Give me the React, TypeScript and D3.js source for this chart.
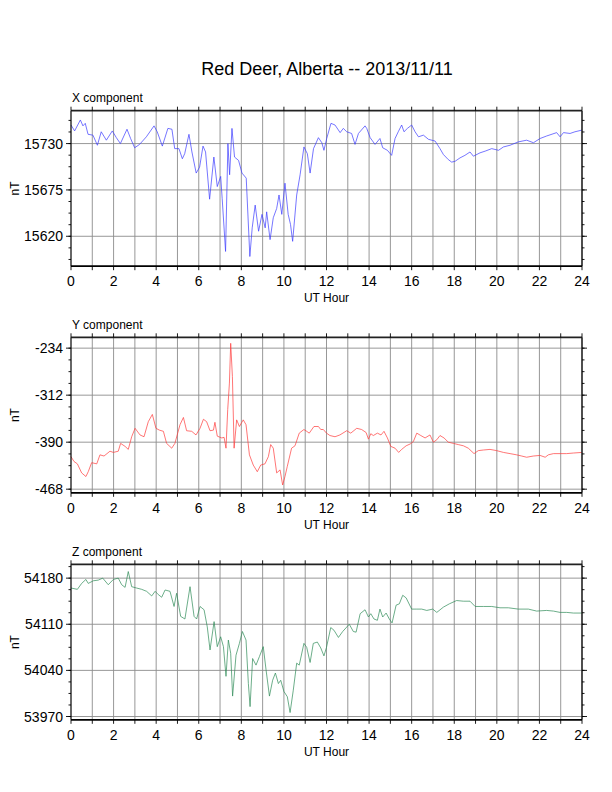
import { line, range, scaleLinear } from "d3";

const TITLE = "Red Deer, Alberta -- 2013/11/11";

// X component (nT)
const xHours = [0, 0.17, 0.44, 0.56, 0.67, 0.8, 1.03, 1.24, 1.42, 1.66, 1.94, 2.13, 2.32, 2.63, 2.8, 2.99, 3.22, 3.54, 3.9, 4.05, 4.29, 4.55, 4.74, 4.87, 5.07, 5.23, 5.34, 5.54, 5.68, 5.88, 6.04, 6.2, 6.32, 6.51, 6.71, 6.87, 7.03, 7.1, 7.26, 7.37, 7.45, 7.56, 7.68, 7.87, 8.03, 8.23, 8.36, 8.4, 8.51, 8.65, 8.81, 8.97, 9.12, 9.19, 9.35, 9.5, 9.66, 9.77, 9.9, 10.05, 10.2, 10.31, 10.41, 10.6, 10.76, 10.94, 11.1, 11.23, 11.39, 11.62, 11.78, 11.88, 12.01, 12.21, 12.4, 12.64, 12.79, 12.95, 13.18, 13.34, 13.5, 13.81, 13.89, 14.05, 14.28, 14.51, 14.64, 14.86, 15.06, 15.22, 15.37, 15.53, 15.64, 15.8, 16.0, 16.16, 16.32, 16.55, 16.79, 17.1, 17.33, 17.49, 17.72, 17.88, 18.04, 18.27, 18.5, 18.74, 18.9, 19.21, 19.45, 19.76, 20.08, 20.31, 20.62, 21.01, 21.4, 21.72, 22.03, 22.34, 22.81, 22.97, 23.13, 23.44, 23.67, 24];
const xValues = [15752, 15745, 15758, 15751, 15754, 15741, 15740, 15728, 15744, 15734, 15745, 15737, 15730, 15747, 15736, 15725, 15729, 15738, 15751, 15744, 15727, 15748, 15747, 15724, 15724, 15712, 15718, 15741, 15720, 15695, 15702, 15727, 15720, 15664, 15714, 15679, 15691, 15665, 15602, 15730, 15693, 15748, 15714, 15710, 15695, 15689, 15618, 15596, 15630, 15657, 15626, 15646, 15630, 15649, 15616, 15642, 15653, 15669, 15646, 15683, 15646, 15634, 15614, 15669, 15693, 15726, 15718, 15695, 15724, 15737, 15731, 15722, 15736, 15754, 15752, 15743, 15748, 15744, 15742, 15729, 15742, 15751, 15748, 15737, 15729, 15736, 15725, 15722, 15716, 15736, 15744, 15752, 15744, 15748, 15752, 15744, 15738, 15740, 15735, 15733, 15724, 15717, 15711, 15708, 15709, 15713, 15716, 15720, 15715, 15719, 15721, 15724, 15722, 15726, 15728, 15732, 15734, 15731, 15736, 15739, 15743, 15738, 15743, 15742, 15744, 15746];

// Y component (nT)
const yHours = [0, 0.14, 0.3, 0.5, 0.7, 0.81, 0.97, 1.21, 1.36, 1.55, 1.83, 1.99, 2.22, 2.33, 2.54, 2.69, 2.85, 3.01, 3.24, 3.43, 3.63, 3.82, 3.99, 4.15, 4.34, 4.49, 4.73, 4.88, 5.12, 5.28, 5.43, 5.67, 5.87, 6.06, 6.22, 6.37, 6.53, 6.69, 6.76, 6.87, 7.08, 7.19, 7.28, 7.36, 7.44, 7.5, 7.58, 7.66, 7.78, 7.91, 8.09, 8.22, 8.38, 8.56, 8.75, 8.91, 9.11, 9.27, 9.38, 9.5, 9.66, 9.82, 9.94, 10.05, 10.16, 10.36, 10.52, 10.72, 10.94, 11.07, 11.19, 11.41, 11.62, 11.73, 11.85, 12.0, 12.16, 12.4, 12.63, 12.95, 13.14, 13.42, 13.65, 13.86, 13.97, 14.08, 14.2, 14.39, 14.56, 14.7, 14.86, 15.02, 15.22, 15.39, 15.53, 15.74, 15.93, 16.08, 16.24, 16.43, 16.63, 16.86, 17.02, 17.18, 17.33, 17.52, 17.72, 17.96, 18.19, 18.43, 18.66, 18.93, 19.13, 19.37, 19.68, 19.99, 20.31, 20.62, 20.93, 21.17, 21.4, 21.71, 22.03, 22.27, 22.42, 22.66, 22.97, 23.28, 23.6, 24];
const yValues = [-414, -422, -426, -441, -447, -439, -424, -426, -411, -413, -405, -407, -405, -392, -397, -402, -381, -367, -378, -381, -356, -344, -367, -370, -372, -392, -400, -392, -361, -349, -371, -372, -378, -367, -352, -356, -371, -370, -357, -380, -383, -382, -400, -336, -292, -226, -281, -400, -353, -364, -353, -361, -411, -428, -439, -428, -426, -414, -394, -400, -441, -436, -461, -447, -430, -400, -396, -375, -369, -372, -375, -364, -364, -369, -369, -375, -379, -381, -378, -371, -375, -367, -369, -374, -385, -376, -379, -375, -378, -372, -383, -397, -400, -407, -402, -396, -393, -389, -375, -379, -383, -378, -390, -386, -379, -383, -390, -392, -394, -396, -400, -409, -404, -403, -402, -404, -407, -409, -411, -413, -415, -413, -412, -415, -411, -409, -409, -409, -408, -407];

// Z component (nT)
const zHours = [0, 0.3, 0.5, 0.7, 0.81, 1.05, 1.28, 1.49, 1.75, 1.99, 2.22, 2.38, 2.54, 2.69, 2.85, 3.08, 3.32, 3.55, 3.79, 3.95, 4.1, 4.26, 4.42, 4.65, 4.84, 4.96, 5.15, 5.35, 5.59, 5.78, 5.9, 6.06, 6.25, 6.4, 6.53, 6.72, 6.87, 7.03, 7.16, 7.28, 7.39, 7.5, 7.59, 7.75, 7.91, 8.05, 8.22, 8.33, 8.41, 8.53, 8.69, 8.85, 9.03, 9.16, 9.32, 9.47, 9.6, 9.74, 9.85, 10.0, 10.16, 10.29, 10.44, 10.6, 10.72, 10.94, 11.07, 11.23, 11.38, 11.57, 11.73, 11.88, 12.0, 12.2, 12.35, 12.56, 12.76, 13.07, 13.26, 13.39, 13.58, 13.81, 13.97, 14.08, 14.23, 14.39, 14.51, 14.64, 14.8, 14.95, 15.08, 15.27, 15.42, 15.58, 15.74, 16.0, 16.24, 16.47, 16.71, 16.99, 17.18, 17.49, 17.77, 18.11, 18.43, 18.74, 18.98, 19.37, 19.76, 20.15, 20.54, 21.01, 21.48, 21.87, 22.34, 22.66, 22.97, 23.28, 23.6, 24];
const zValues = [54165, 54163, 54172, 54178, 54172, 54176, 54177, 54180, 54170, 54178, 54180, 54170, 54166, 54190, 54167, 54165, 54163, 54160, 54153, 54160, 54155, 54151, 54162, 54160, 54137, 54157, 54122, 54118, 54167, 54122, 54118, 54137, 54132, 54106, 54071, 54114, 54076, 54091, 54076, 54031, 54086, 54066, 54001, 54063, 54081, 54099, 54086, 54020, 53985, 54058, 54048, 54061, 54076, 54041, 54001, 54025, 54036, 54020, 54025, 54008, 54000, 53976, 54010, 54051, 54048, 54081, 54075, 54052, 54081, 54083, 54074, 54062, 54075, 54105, 54101, 54090, 54099, 54110, 54099, 54098, 54126, 54132, 54121, 54126, 54118, 54116, 54133, 54121, 54127, 54118, 54112, 54139, 54141, 54154, 54150, 54133, 54133, 54133, 54131, 54133, 54128, 54136, 54141, 54146, 54145, 54145, 54137, 54137, 54137, 54135, 54135, 54133, 54133, 54130, 54131, 54130, 54128, 54128, 54127, 54127];

const xTicks = [15620, 15675, 15730];
const yTicks = [-468, -390, -312, -234];
const zTicks = [53970, 54040, 54110, 54180];

const hourLabels = range(0, 25, 2);

const FONT = "'Liberation Sans', Helvetica, Arial, sans-serif";
const LEFT = 71;
const RIGHT = 582;
const PANEL_H = 155.5;

const panels = [
  { name: "X component", hours: xHours, values: xValues, ticks: xTicks, domain: [15584.5, 15769], color: "#3b3bff", top: 110.7 },
  { name: "Y component", hours: yHours, values: yValues, ticks: yTicks, domain: [-474, -216], color: "#ff3b3b", top: 337.3 },
  { name: "Z component", hours: zHours, values: zValues, ticks: zTicks, domain: [53965, 54201], color: "#2e8b57", top: 564.3 },
];

const Panel = ({ p }: { p: typeof panels[number] }) => {
  const x = scaleLinear().domain([0, 24]).range([LEFT, RIGHT]);
  const y = scaleLinear().domain(p.domain).range([p.top + PANEL_H, p.top]);
  const step = p.ticks[1] - p.ticks[0];
  const minor = range(p.ticks[0] - 4 * step, p.ticks[p.ticks.length - 1] + 4 * step, step / 4)
    .filter((v) => v >= p.domain[0] && v <= p.domain[1]);
  const path = line<number>()
    .x((_, i) => x(p.hours[i]))
    .y((d) => y(d));
  const bottom = p.top + PANEL_H;
  return (
    <g>
      {range(1, 24).map((h) => (
        <line key={"v" + h} x1={x(h)} x2={x(h)} y1={p.top} y2={bottom} stroke="#8c8c8c" strokeWidth={0.9} />
      ))}
      {p.ticks.map((t) => (
        <line key={"h" + t} x1={LEFT} x2={RIGHT} y1={y(t)} y2={y(t)} stroke="#8c8c8c" strokeWidth={0.9} />
      ))}
      <path d={path(p.values) ?? ""} fill="none" stroke={p.color} strokeWidth={0.7} strokeLinejoin="round" />
      {/* frame */}
      <line x1={LEFT} x2={LEFT} y1={p.top} y2={bottom} stroke="#000" strokeWidth={1.2} />
      <line x1={RIGHT} x2={RIGHT} y1={p.top} y2={bottom} stroke="#222" strokeWidth={1.6} />
      <line x1={LEFT} x2={RIGHT} y1={p.top} y2={p.top} stroke="#222" strokeWidth={1.8} />
      <line x1={LEFT} x2={RIGHT} y1={bottom} y2={bottom} stroke="#000" strokeWidth={1.8} />
      {range(0, 25).map((h) => (
        <g key={"t" + h}>
          <line x1={x(h)} x2={x(h)} y1={p.top} y2={p.top - 4} stroke="#000" strokeWidth={0.9} />
          <line x1={x(h)} x2={x(h)} y1={bottom} y2={bottom + 4} stroke="#000" strokeWidth={0.9} />
        </g>
      ))}
      {minor.map((v) => (
        <g key={"m" + v}>
          <line x1={LEFT} x2={LEFT - 2.5} y1={y(v)} y2={y(v)} stroke="#000" strokeWidth={0.9} />
          <line x1={RIGHT} x2={RIGHT + 2.5} y1={y(v)} y2={y(v)} stroke="#000" strokeWidth={0.9} />
        </g>
      ))}
      {p.ticks.map((t) => (
        <g key={"l" + t}>
          <line x1={LEFT} x2={LEFT - 5} y1={y(t)} y2={y(t)} stroke="#000" strokeWidth={0.9} />
          <line x1={RIGHT} x2={RIGHT + 5} y1={y(t)} y2={y(t)} stroke="#000" strokeWidth={0.9} />
          <text x={LEFT - 8} y={y(t) + 5} textAnchor="end" fontSize={14} fontFamily={FONT}>
            {t}
          </text>
        </g>
      ))}
      {hourLabels.map((h) => (
        <text key={"x" + h} x={x(h)} y={bottom + 20} textAnchor="middle" fontSize={14} fontFamily={FONT}>
          {h}
        </text>
      ))}
      <text x={(LEFT + RIGHT) / 2} y={bottom + 36} textAnchor="middle" fontSize={12} fontFamily={FONT}>
        UT Hour
      </text>
      <text x={LEFT + 1} y={p.top - 8.5} fontSize={12} fontFamily={FONT}>
        {p.name}
      </text>
      <text
        transform={`translate(18.5, ${p.top + PANEL_H / 2}) rotate(-90)`}
        textAnchor="middle"
        fontSize={12}
        fontFamily={FONT}
      >
        nT
      </text>
    </g>
  );
};

export default function App() {
  return (
    <svg
      width={612}
      height={792}
      style={{ position: "absolute", left: 0, top: 0, background: "#fff" }}
    >
      <rect width={612} height={792} fill="#fff" />
      <text x={327} y={75} textAnchor="middle" fontSize={18} fontFamily={FONT}>
        {TITLE}
      </text>
      {panels.map((p) => (
        <Panel key={p.name} p={p} />
      ))}
    </svg>
  );
}
